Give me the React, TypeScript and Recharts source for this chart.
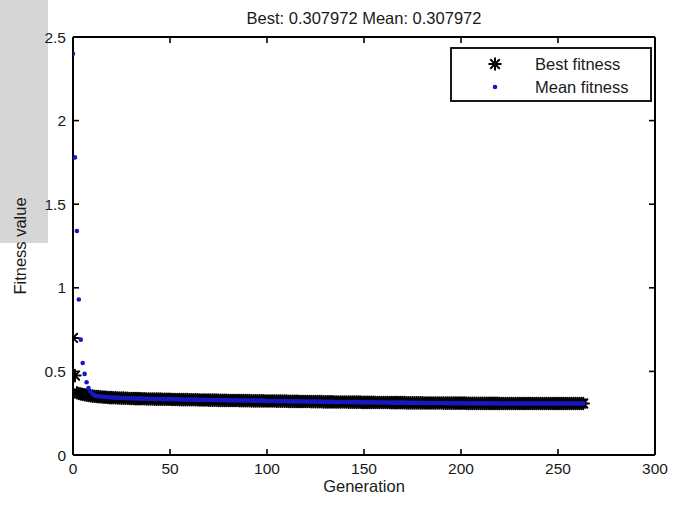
import React from "react";
import { ScatterChart, Scatter, XAxis, YAxis, CartesianGrid } from "recharts";

const titleText = "Best: 0.307972 Mean: 0.307972";
const xTicks = [0, 50, 100, 150, 200, 250, 300];
const yTicks = [0, 0.5, 1, 1.5, 2, 2.5];

const bestFitness = [
  0.700, 0.475, 0.372, 0.368, 0.365, 0.362, 0.360, 0.358, 0.356, 0.354,
  0.352, 0.351, 0.350, 0.349, 0.348, 0.347, 0.346, 0.345, 0.344, 0.343,
  0.343, 0.342, 0.342, 0.341, 0.341, 0.340, 0.340, 0.339, 0.339, 0.338,
  0.338, 0.338, 0.337, 0.337, 0.337, 0.336, 0.336, 0.336, 0.335, 0.335,
  0.335, 0.335, 0.334, 0.334, 0.334, 0.334, 0.333, 0.333, 0.333, 0.333,
  0.333, 0.332, 0.332, 0.332, 0.332, 0.331, 0.331, 0.331, 0.331, 0.331,
  0.330, 0.330, 0.330, 0.330, 0.330, 0.329, 0.329, 0.329, 0.329, 0.329,
  0.328, 0.328, 0.328, 0.328, 0.328, 0.327, 0.327, 0.327, 0.327, 0.327,
  0.326, 0.326, 0.326, 0.326, 0.326, 0.326, 0.325, 0.325, 0.325, 0.325,
  0.325, 0.325, 0.324, 0.324, 0.324, 0.324, 0.324, 0.324, 0.324, 0.323,
  0.323, 0.323, 0.323, 0.323, 0.323, 0.322, 0.322, 0.322, 0.322, 0.322,
  0.322, 0.321, 0.321, 0.321, 0.321, 0.321, 0.321, 0.320, 0.320, 0.320,
  0.320, 0.320, 0.320, 0.319, 0.319, 0.319, 0.319, 0.319, 0.319, 0.318,
  0.318, 0.318, 0.318, 0.318, 0.318, 0.317, 0.317, 0.317, 0.317, 0.317,
  0.317, 0.317, 0.316, 0.316, 0.316, 0.316, 0.316, 0.316, 0.316, 0.315,
  0.315, 0.315, 0.315, 0.315, 0.315, 0.315, 0.314, 0.314, 0.314, 0.314,
  0.314, 0.314, 0.314, 0.314, 0.313, 0.313, 0.313, 0.313, 0.313, 0.313,
  0.313, 0.313, 0.312, 0.312, 0.312, 0.312, 0.312, 0.312, 0.312, 0.312,
  0.312, 0.311, 0.311, 0.311, 0.311, 0.311, 0.311, 0.311, 0.311, 0.311,
  0.311, 0.310, 0.310, 0.310, 0.310, 0.310, 0.310, 0.310, 0.310, 0.310,
  0.310, 0.310, 0.310, 0.309, 0.309, 0.309, 0.309, 0.309, 0.309, 0.309,
  0.309, 0.309, 0.309, 0.309, 0.309, 0.309, 0.309, 0.309, 0.309, 0.309,
  0.308, 0.308, 0.308, 0.308, 0.308, 0.308, 0.308, 0.308, 0.308, 0.308,
  0.308, 0.308, 0.308, 0.308, 0.308, 0.308, 0.308, 0.308, 0.308, 0.308,
  0.308, 0.308, 0.308, 0.308, 0.308, 0.308, 0.308, 0.308, 0.308, 0.308,
  0.308, 0.308, 0.308, 0.308, 0.308, 0.308, 0.308, 0.308, 0.308, 0.308,
  0.308, 0.308, 0.308, 0.307972,
];

const meanFitness = [
  2.400, 1.780, 1.340, 0.930, 0.690, 0.550, 0.485, 0.435, 0.400, 0.380,
  0.366, 0.358, 0.353, 0.351, 0.350, 0.349, 0.348, 0.347, 0.346, 0.345,
  0.344, 0.343, 0.343, 0.342, 0.342, 0.341, 0.341, 0.340, 0.340, 0.339,
  0.339, 0.339, 0.338, 0.338, 0.338, 0.337, 0.337, 0.337, 0.336, 0.336,
  0.336, 0.336, 0.335, 0.335, 0.335, 0.335, 0.334, 0.334, 0.334, 0.334,
  0.334, 0.333, 0.333, 0.333, 0.333, 0.332, 0.332, 0.332, 0.332, 0.332,
  0.331, 0.331, 0.331, 0.331, 0.331, 0.330, 0.330, 0.330, 0.330, 0.330,
  0.329, 0.329, 0.329, 0.329, 0.329, 0.328, 0.328, 0.328, 0.328, 0.328,
  0.327, 0.327, 0.327, 0.327, 0.327, 0.327, 0.326, 0.326, 0.326, 0.326,
  0.326, 0.326, 0.325, 0.325, 0.325, 0.325, 0.325, 0.325, 0.325, 0.324,
  0.323, 0.323, 0.323, 0.323, 0.323, 0.322, 0.322, 0.322, 0.322, 0.322,
  0.322, 0.321, 0.321, 0.321, 0.321, 0.321, 0.321, 0.320, 0.320, 0.320,
  0.320, 0.320, 0.320, 0.319, 0.319, 0.319, 0.319, 0.319, 0.319, 0.318,
  0.318, 0.318, 0.318, 0.318, 0.318, 0.317, 0.317, 0.317, 0.317, 0.317,
  0.317, 0.317, 0.316, 0.316, 0.316, 0.316, 0.316, 0.316, 0.316, 0.315,
  0.315, 0.315, 0.315, 0.315, 0.315, 0.315, 0.314, 0.314, 0.314, 0.314,
  0.314, 0.314, 0.314, 0.314, 0.313, 0.313, 0.313, 0.313, 0.313, 0.313,
  0.313, 0.313, 0.312, 0.312, 0.312, 0.312, 0.312, 0.312, 0.312, 0.312,
  0.312, 0.311, 0.311, 0.311, 0.311, 0.311, 0.311, 0.311, 0.311, 0.311,
  0.311, 0.310, 0.310, 0.310, 0.310, 0.310, 0.310, 0.310, 0.310, 0.310,
  0.310, 0.310, 0.310, 0.309, 0.309, 0.309, 0.309, 0.309, 0.309, 0.309,
  0.309, 0.309, 0.309, 0.309, 0.309, 0.309, 0.309, 0.309, 0.309, 0.309,
  0.308, 0.308, 0.308, 0.308, 0.308, 0.308, 0.308, 0.308, 0.308, 0.308,
  0.308, 0.308, 0.308, 0.308, 0.308, 0.308, 0.308, 0.308, 0.308, 0.308,
  0.308, 0.308, 0.308, 0.308, 0.308, 0.308, 0.308, 0.308, 0.308, 0.308,
  0.308, 0.308, 0.308, 0.308, 0.308, 0.308, 0.308, 0.308, 0.308, 0.308,
  0.308, 0.308, 0.308, 0.307972,
];

const bestData = bestFitness.map((v, i) => ({ gen: i, value: v }));
const meanData = meanFitness.map((v, i) => ({ gen: i, value: v }));

const FONT = "'Liberation Sans', Arial, Helvetica, sans-serif";
const TEXT = "#1a1a1a";
const BLUE = "#1818c0";

const Asterisk = (props: any) => {
  const { cx, cy } = props;
  if (cx == null || cy == null) return null;
  const r = 5.8;
  const d = r * 0.72;
  return (
    <g stroke="#000" strokeWidth={2} strokeLinecap="round">
      <line x1={cx - r} y1={cy} x2={cx + r} y2={cy} />
      <line x1={cx} y1={cy - r} x2={cx} y2={cy + r} />
      <line x1={cx - d} y1={cy - d} x2={cx + d} y2={cy + d} />
      <line x1={cx - d} y1={cy + d} x2={cx + d} y2={cy - d} />
    </g>
  );
};

const Dot = (props: any) => {
  const { cx, cy } = props;
  if (cx == null || cy == null) return null;
  return <circle cx={cx} cy={cy} r={2.3} fill={BLUE} />;
};

const BottomTick = (props: any) => {
  const { x, y, payload } = props;
  return (
    <g>
      <line x1={x} x2={x} y1={y} y2={y - 6} stroke="#000" strokeWidth={1.6} />
      <text x={x} y={y + 19} textAnchor="middle" fontSize={15.5} fontFamily={FONT} fill={TEXT}>
        {payload.value}
      </text>
    </g>
  );
};

const TopTick = (props: any) => {
  const { x, y } = props;
  return <line x1={x} x2={x} y1={y} y2={y + 6} stroke="#000" strokeWidth={1.6} />;
};

const LeftTick = (props: any) => {
  const { x, y, payload } = props;
  return (
    <g>
      <line x1={x} x2={x + 6} y1={y} y2={y} stroke="#000" strokeWidth={1.6} />
      <text x={x - 7} y={y + 5.5} textAnchor="end" fontSize={15.5} fontFamily={FONT} fill={TEXT}>
        {payload.value}
      </text>
    </g>
  );
};

const RightTick = (props: any) => {
  const { x, y } = props;
  return <line x1={x} x2={x - 6} y1={y} y2={y} stroke="#000" strokeWidth={1.6} />;
};

export default function App() {
  return (
    <div style={{ position: "absolute", left: 0, top: 0, width: 683, height: 508, background: "#fff", overflow: "hidden" }}>
      <div style={{ position: "absolute", left: 0, top: 0, width: 48, height: 243, background: "#d6d6d6" }} />
      <div style={{ position: "absolute", left: 0, top: 0 }}>
        <ScatterChart width={683} height={508} margin={{ top: 0, right: 0, bottom: 0, left: 0 }}>
          <CartesianGrid stroke="#b8b8b8" strokeDasharray="2 3" strokeWidth={1} />
          <XAxis
            xAxisId="bottom"
            type="number"
            dataKey="gen"
            domain={[0, 300]}
            ticks={xTicks}
            orientation="bottom"
            height={53}
            tickSize={0}
            tickMargin={0}
            tick={<BottomTick />}
            axisLine={{ stroke: "#000", strokeWidth: 2 }}
            allowDataOverflow
            interval={0}
          />
          <XAxis
            xAxisId="top"
            type="number"
            dataKey="gen"
            domain={[0, 300]}
            ticks={xTicks}
            orientation="top"
            height={37}
            tickSize={0}
            tickMargin={0}
            tick={<TopTick />}
            axisLine={{ stroke: "#000", strokeWidth: 2 }}
            allowDataOverflow
            interval={0}
          />
          <YAxis
            yAxisId="left"
            type="number"
            dataKey="value"
            domain={[0, 2.5]}
            ticks={yTicks}
            orientation="left"
            width={73}
            tickSize={0}
            tickMargin={0}
            tick={<LeftTick />}
            axisLine={{ stroke: "#000", strokeWidth: 2 }}
            allowDataOverflow
            interval={0}
          />
          <YAxis
            yAxisId="right"
            type="number"
            dataKey="value"
            domain={[0, 2.5]}
            ticks={yTicks}
            orientation="right"
            width={28}
            tickSize={0}
            tickMargin={0}
            tick={<RightTick />}
            axisLine={{ stroke: "#000", strokeWidth: 2 }}
            allowDataOverflow
            interval={0}
          />
          <Scatter
            name="Best fitness"
            data={bestData}
            xAxisId="bottom"
            yAxisId="left"
            shape={<Asterisk />}
            isAnimationActive={false}
          />
          <Scatter
            name="Mean fitness"
            data={meanData}
            xAxisId="bottom"
            yAxisId="left"
            shape={<Dot />}
            isAnimationActive={false}
          />
        </ScatterChart>
      </div>
      <svg width={683} height={508} style={{ position: "absolute", left: 0, top: 0, pointerEvents: "none" }}>
        <text x={364} y={24} textAnchor="middle" fontSize={16.5} fontFamily={FONT} fill={TEXT}>
          {titleText}
        </text>
        <text x={364} y={492} textAnchor="middle" fontSize={16.5} fontFamily={FONT} fill={TEXT}>
          Generation
        </text>
        <text
          x={26}
          y={246}
          textAnchor="middle"
          fontSize={16.5}
          fontFamily={FONT}
          fill={TEXT}
          transform="rotate(-90 26 246)"
        >
          Fitness value
        </text>
        <rect x={451} y={48} width={200} height={53} fill="#fff" stroke="#000" strokeWidth={1.8} />
        <Asterisk cx={495} cy={64} />
        <circle cx={495} cy={87} r={2.3} fill={BLUE} />
        <text x={535} y={70} fontSize={16.5} fontFamily={FONT} fill={TEXT}>Best fitness</text>
        <text x={535} y={93} fontSize={16.5} fontFamily={FONT} fill={TEXT}>Mean fitness</text>
      </svg>
    </div>
  );
}
